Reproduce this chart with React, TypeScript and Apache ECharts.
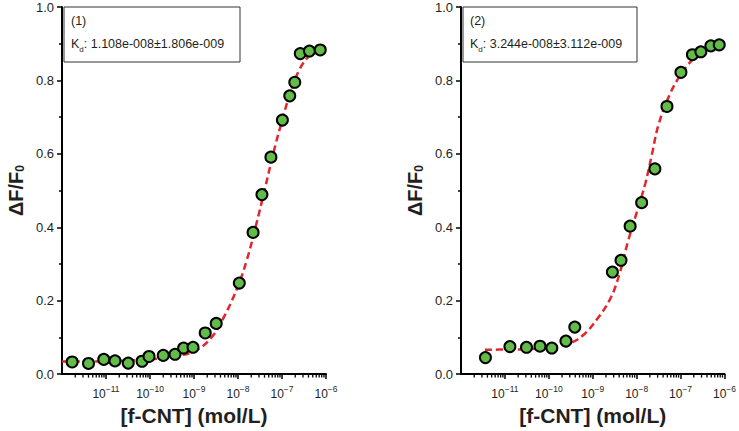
import React, { useEffect, useRef } from "react";
import * as echarts from "echarts";

const FONT = "'Liberation Sans', Arial, Helvetica, sans-serif";
const TXT = "#231f20";
const GREEN = "#62bd48";
const RED = "#e3262d";

// Panel (1)
const leftConc = [1.7e-12, 4.0e-12, 8.9e-12, 1.6e-11, 3.2e-11, 6.6e-11, 9.5e-11, 2.0e-10, 3.7e-10, 5.8e-10, 9.5e-10, 1.8e-9, 3.2e-9, 1.07e-8, 2.2e-8, 3.5e-8, 5.6e-8, 1.02e-7, 1.5e-7, 1.95e-7, 2.6e-7, 4.2e-7, 7.4e-7];
const leftResp = [0.033, 0.029, 0.040, 0.036, 0.030, 0.035, 0.048, 0.051, 0.054, 0.071, 0.073, 0.112, 0.138, 0.248, 0.386, 0.489, 0.591, 0.692, 0.758, 0.795, 0.873, 0.880, 0.883];
const leftFitConc = [1e-12, 1e-11, 3.16e-11, 1e-10, 3.16e-10, 1e-9, 2.5e-9, 5e-9, 1e-8, 1.58e-8, 2.5e-8, 4e-8, 6.3e-8, 1e-7, 1.58e-7, 2.5e-7, 4e-7, 7e-7];
const leftFitResp = [0.034, 0.035, 0.037, 0.040, 0.048, 0.062, 0.100, 0.160, 0.240, 0.310, 0.400, 0.500, 0.600, 0.690, 0.770, 0.830, 0.865, 0.890];

// Panel (2)
const rightConc = [3.6e-12, 1.3e-11, 3.1e-11, 6.3e-11, 1.17e-10, 2.45e-10, 3.9e-10, 2.8e-9, 4.4e-9, 7.1e-9, 1.3e-8, 2.6e-8, 4.9e-8, 1.02e-7, 1.86e-7, 2.9e-7, 4.9e-7, 7.6e-7];
const rightResp = [0.045, 0.075, 0.073, 0.076, 0.071, 0.090, 0.128, 0.278, 0.310, 0.403, 0.467, 0.559, 0.729, 0.822, 0.870, 0.878, 0.894, 0.897];
const rightFitConc = [3.5e-12, 1e-11, 3.16e-11, 1e-10, 3.16e-10, 6.3e-10, 1.26e-9, 2.5e-9, 4e-9, 6.3e-9, 1e-8, 1.58e-8, 2.24e-8, 3.16e-8, 5.6e-8, 1e-7, 2e-7, 4e-7, 7.9e-7];
const rightFitResp = [0.066, 0.067, 0.068, 0.072, 0.085, 0.108, 0.150, 0.205, 0.270, 0.360, 0.440, 0.520, 0.600, 0.680, 0.760, 0.815, 0.860, 0.885, 0.905];

const panelLabels = ["(1)", "(2)"];
const kdMeans = ["1.108e-008", "3.244e-008"];
const kdErrors = ["1.806e-009", "3.112e-009"];

const xMin = 1e-12;
const xMax = 1e-6;
const xName = "[f-CNT] (mol/L)";
const yName = "ΔF/F{s|0}";
const minorMultipliers = [2, 3, 4, 5, 6, 7, 8, 9];

const zip = (a: number[], b: number[]) => a.map((v, i) => [v, b[i]]);

const minorTickValues: number[][] = [];
for (let e = -12; e < -6; e++) {
  for (const m of minorMultipliers) minorTickValues.push([m * Math.pow(10, e), 0]);
}

const supMap: Record<string, string> = { "-": "−" };
function xLabel(v: number) {
  const e = Math.round(Math.log10(v));
  const s = String(e).split("").map((c) => supMap[c] || c).join("");
  return "{b|10}{s|" + s + "}";
}

export default function App() {
  const ref = useRef<HTMLDivElement>(null);
  useEffect(() => {
    if (!ref.current) return;
    const chart = echarts.init(ref.current, undefined, { renderer: "svg" });
    const grids = [
      { left: 62, top: 7, width: 264, height: 372 },
      { left: 461, top: 7, width: 265, height: 372 },
    ];
    const xAxes = grids.map((_, i) => ({
      type: "log",
      logBase: 10,
      gridIndex: i,
      min: xMin,
      max: xMax,
      interval: 1,
      name: xName,
      nameLocation: "middle",
      nameGap: 28,
      nameTextStyle: { fontFamily: FONT, fontSize: 21, fontWeight: "bold", color: TXT },
      axisLine: { onZero: false, lineStyle: { color: "#000", width: 2 } },
      axisTick: { show: true, length: 5, lineStyle: { color: "#000", width: 1.5 } },
      minorTick: { show: false },
      splitLine: { show: false },
      axisLabel: {
        showMinLabel: false,
        margin: 10,
        formatter: xLabel,
        rich: {
          b: { fontFamily: FONT, fontSize: 12, color: TXT, lineHeight: 16, verticalAlign: "bottom" },
          s: { fontFamily: FONT, fontSize: 8.5, color: TXT, lineHeight: 10, verticalAlign: "top" },
        },
      },
    }));
    const yAxes = grids.map((_, i) => ({
      type: "value",
      gridIndex: i,
      min: 0,
      max: 1,
      interval: 0.2,
      name: yName,
      nameLocation: "middle",
      nameGap: 36,
      nameRotate: 90,
      nameTextStyle: {
        fontFamily: FONT,
        fontSize: 20,
        fontWeight: "bold",
        color: TXT,
        rich: {
          s: { fontFamily: FONT, fontSize: 12, fontWeight: "bold", color: TXT, verticalAlign: "bottom", lineHeight: 14 },
        },
      },
      axisLine: { show: true, lineStyle: { color: "#000", width: 2 } },
      axisTick: { show: true, length: 5, lineStyle: { color: "#000", width: 1.5 } },
      minorTick: { show: true, splitNumber: 2, length: 3, lineStyle: { color: "#000", width: 1.5 } },
      splitLine: { show: false },
      axisLabel: {
        fontFamily: FONT,
        fontSize: 13,
        color: TXT,
        margin: 8,
        formatter: (v: number) => v.toFixed(1),
      },
    }));

    const fits = [zip(leftFitConc, leftFitResp), zip(rightFitConc, rightFitResp)];
    const points = [zip(leftConc, leftResp), zip(rightConc, rightResp)];
    const series: any[] = [];
    grids.forEach((_, i) => {
      series.push({
        type: "line",
        xAxisIndex: i,
        yAxisIndex: i,
        data: fits[i],
        smooth: 0.4,
        symbol: "none",
        lineStyle: { color: RED, width: 2.5, type: [7, 4] },
        z: 2,
        silent: true,
      });
      series.push({
        type: "scatter",
        xAxisIndex: i,
        yAxisIndex: i,
        data: points[i],
        symbol: "circle",
        symbolSize: 11,
        itemStyle: { color: GREEN, borderColor: "#000", borderWidth: 2, opacity: 1 },
        z: 3,
        silent: true,
      });
      series.push({
        type: "custom",
        xAxisIndex: i,
        yAxisIndex: i,
        data: minorTickValues,
        silent: true,
        z: 4,
        renderItem: (params: any, api: any) => {
          const p = api.coord([api.value(0), 0]);
          return {
            type: "line",
            shape: { x1: p[0], y1: p[1] + 1, x2: p[0], y2: p[1] + 3.5 },
            style: { stroke: "#000", lineWidth: 1.3 },
          };
        },
      });
    });

    const graphic: any[] = [];
    const boxes = [
      { x: 64, w: 176 },
      { x: 463, w: 174 },
    ];
    boxes.forEach((b, i) => {
      graphic.push({
        type: "rect",
        shape: { x: b.x, y: 7, width: b.w, height: 55 },
        style: { fill: "#fff", stroke: "#333", lineWidth: 1 },
        z: 10,
      });
      graphic.push({
        type: "text",
        x: b.x + 7,
        y: 14,
        style: { text: panelLabels[i], font: `12.5px ${FONT}`, fill: TXT },
        z: 11,
      });
      graphic.push({
        type: "text",
        x: b.x + 7,
        y: 37,
        style: {
          text: "{a|K}{d|d}{a|: " + kdMeans[i] + "±" + kdErrors[i] + "}",
          rich: {
            a: { fontFamily: FONT, fontSize: 12.5, fill: TXT, lineHeight: 16, verticalAlign: "top" },
            d: { fontFamily: FONT, fontSize: 8, fill: TXT, lineHeight: 9, verticalAlign: "bottom" },
          },
        },
        z: 11,
      });
    });

    chart.setOption({
      animation: false,
      backgroundColor: "#fff",
      grid: grids,
      xAxis: xAxes,
      yAxis: yAxes,
      series,
      graphic,
    });
    return () => chart.dispose();
  }, []);
  return <div ref={ref} style={{ position: "absolute", left: 0, top: 0, width: 739, height: 431 }} />;
}
